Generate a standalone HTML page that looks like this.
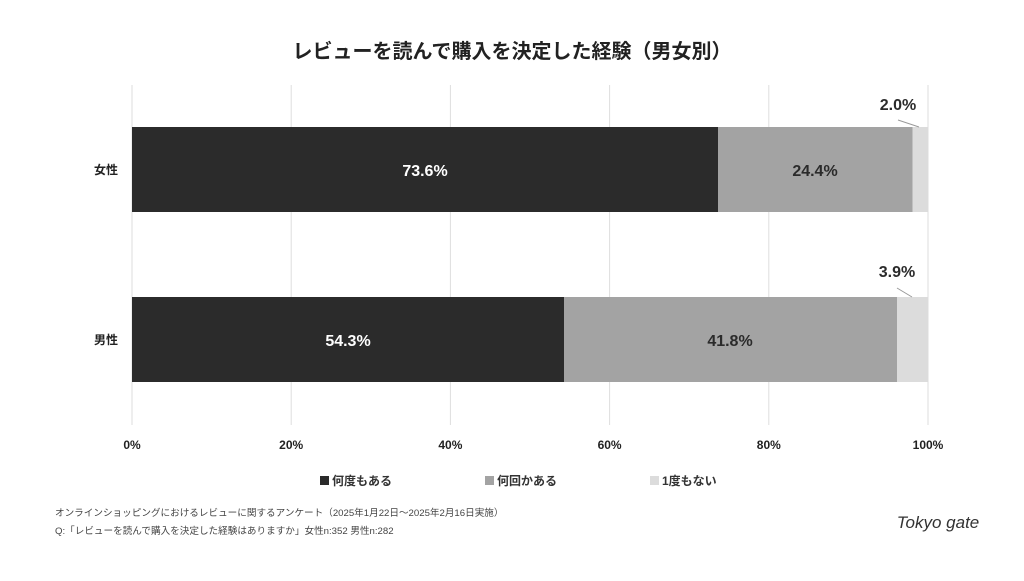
<!DOCTYPE html>
<html><head><meta charset="utf-8"><style>
body{margin:0;background:#fff;}
svg text{font-family:"Liberation Sans","Noto Sans CJK JP",sans-serif;}
</style></head><body>
<svg width="1024" height="576" viewBox="0 0 1024 576" xmlns="http://www.w3.org/2000/svg">
<rect width="1024" height="576" fill="#fff"/>
<text x="512" y="58" text-anchor="middle" font-size="20" font-weight="bold" fill="#222">レビューを読んで購入を決定した経験（男女別）</text>
<g stroke="#dedede" stroke-width="1">
<line x1="132" y1="85" x2="132" y2="425"/>
<line x1="291.2" y1="85" x2="291.2" y2="425"/>
<line x1="450.4" y1="85" x2="450.4" y2="425"/>
<line x1="609.6" y1="85" x2="609.6" y2="425"/>
<line x1="768.8" y1="85" x2="768.8" y2="425"/>
<line x1="928" y1="85" x2="928" y2="425"/>
</g>
<rect x="132" y="127" width="586" height="85" fill="#2b2b2b"/>
<rect x="718" y="127" width="194.5" height="85" fill="#a3a3a3"/>
<rect x="912.5" y="127" width="15.5" height="85" fill="#dcdcdc"/>
<rect x="132" y="297" width="432" height="85" fill="#2b2b2b"/>
<rect x="564" y="297" width="333" height="85" fill="#a3a3a3"/>
<rect x="897" y="297" width="31" height="85" fill="#dcdcdc"/>
<g font-size="16" font-weight="bold" text-anchor="middle">
<text x="425" y="176" fill="#fff">73.6%</text>
<text x="815" y="176" fill="#2b2b2b">24.4%</text>
<text x="348" y="346" fill="#fff">54.3%</text>
<text x="730" y="346" fill="#2b2b2b">41.8%</text>
<text x="898" y="110" fill="#2b2b2b">2.0%</text>
<text x="897" y="277" fill="#2b2b2b">3.9%</text>
</g>
<line x1="898" y1="120" x2="919" y2="127" stroke="#999" stroke-width="1"/>
<line x1="897" y1="288" x2="912" y2="297" stroke="#999" stroke-width="1"/>
<g font-size="12" font-weight="bold" fill="#222" text-anchor="end">
<text x="118" y="174">女性</text>
<text x="118" y="344">男性</text>
</g>
<g font-size="12" font-weight="bold" fill="#222" text-anchor="middle">
<text x="132" y="449">0%</text>
<text x="291.2" y="449">20%</text>
<text x="450.4" y="449">40%</text>
<text x="609.6" y="449">60%</text>
<text x="768.8" y="449">80%</text>
<text x="928" y="449">100%</text>
</g>
<g font-size="12" font-weight="bold" fill="#333">
<rect x="320" y="476" width="9" height="9" fill="#2b2b2b"/><text x="332" y="485">何度もある</text>
<rect x="485" y="476" width="9" height="9" fill="#a3a3a3"/><text x="497" y="485">何回かある</text>
<rect x="650" y="476" width="9" height="9" fill="#dcdcdc"/><text x="662" y="485">1度もない</text>
</g>
<g font-size="9.6" fill="#444">
<text x="55" y="516">オンラインショッピングにおけるレビューに関するアンケート（2025年1月22日〜2025年2月16日実施）</text>
<text x="55" y="534">Q:「レビューを読んで購入を決定した経験はありますか」女性n:352 男性n:282</text>
</g>
<text x="938" y="528" text-anchor="middle" font-size="17" font-style="italic" font-family="Liberation Serif,serif" fill="#333">Tokyo gate</text>
</svg>
</body></html>
